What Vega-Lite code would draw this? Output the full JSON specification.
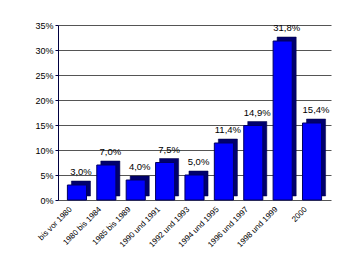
{
  "$schema": "https://vega.github.io/schema/vega-lite/v6.json",
  "autosize": {"type": "none"},
  "width": 273,
  "height": 175,
  "padding": {"left": 58, "top": 25, "right": 15, "bottom": 69},
  "background": "white",
  "config": {
    "locale": {"number": {"decimal": ",", "thousands": ".", "grouping": [3], "currency": ["", " €"]}},
    "font": "Liberation Sans",
    "view": {"stroke": null}
  },
  "data": {"values": [
    {"period": "bis vor 1980", "share": 0.030},
    {"period": "1980 bis 1984", "share": 0.070},
    {"period": "1985 bis 1989", "share": 0.040},
    {"period": "1990 und 1991", "share": 0.075},
    {"period": "1992 und 1993", "share": 0.050},
    {"period": "1994 und 1995", "share": 0.114},
    {"period": "1996 und 1997", "share": 0.149},
    {"period": "1998 und 1999", "share": 0.318},
    {"period": "2000", "share": 0.154}
  ]},
  "encoding": {
    "x": {"field": "period", "type": "nominal", "sort": null,
      "scale": {"paddingInner": 0.35, "paddingOuter": 0.32},
      "axis": {"title": null, "labelAngle": -45, "labelAlign": "right", "labelBaseline": "middle", "labelFontSize": 8, "labelColor": "#000", "domain": false, "ticks": false, "labelPadding": 8, "labelOffset": -6}},
    "y": {"field": "share", "type": "quantitative",
      "scale": {"domain": [0, 0.35], "nice": false},
      "axis": {"title": null, "format": ".0%", "values": [0, 0.05, 0.1, 0.15, 0.2, 0.25, 0.3, 0.35], "labelOverlap": false, "labelFontSize": 9, "labelColor": "#000", "domainColor": "#000040", "tickColor": "#000040", "tickSize": 3, "gridColor": "#555555", "gridWidth": 1}}
  },
  "layer": [
    {"mark": {"type": "bar", "color": "#00006e", "xOffset": 4, "yOffset": -4, "y2Offset": -4, "stroke": "#000040", "strokeWidth": 0.5}},
    {"mark": {"type": "bar", "color": "#0000ff", "stroke": "#000060", "strokeWidth": 1}},
    {"mark": {"type": "text", "dy": -13, "dx": 4, "fontSize": 9.5, "color": "#000"},
      "encoding": {"text": {"field": "share", "type": "quantitative", "format": ".1%"}}}
  ]
}
